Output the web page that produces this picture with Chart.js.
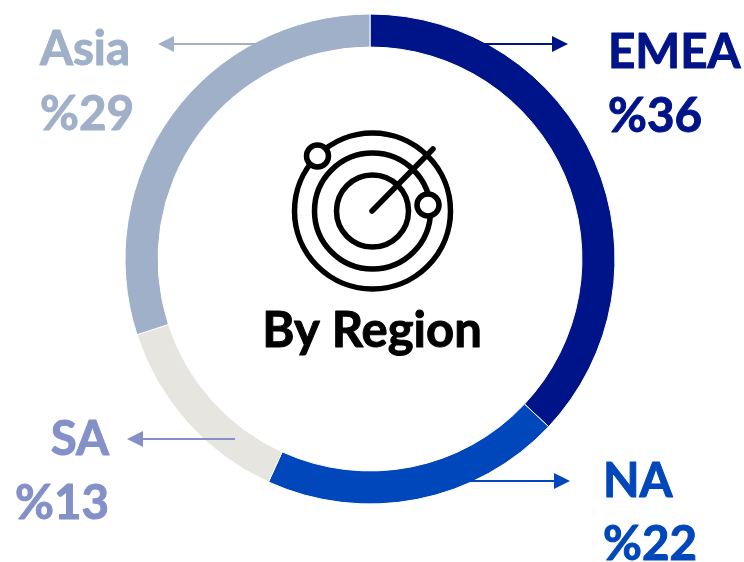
<!DOCTYPE html>
<html>
<head>
<meta charset="utf-8">
<title>By Region</title>
<script src="https://cdn.jsdelivr.net/npm/chart.js@4/dist/chart.umd.min.js"></script>
<style>
  html, body { margin: 0; padding: 0; background: #fff; }
  canvas { display: block; }
</style>
</head>
<body>
<canvas id="region-chart" width="744" height="562"></canvas>
<script>
const regions = ['EMEA', 'NA', 'SA', 'Asia'];
const percentLabels = ['%36', '%22', '%13', '%29'];
// ring shares as drawn in the picture, they differ a little from the printed labels
const ringShares = [37, 19.8, 13.2, 30];
const ringColors = ['#001489', '#0047BB', '#E7E5DF', '#9FB0C8'];
const textColors = ['#001489', '#0047BB', '#8490C8', '#9FB0C8'];
const centerTitle = 'By Region';

const FONT = 'Lato, Carlito, sans-serif';

const labelSpots = [
  { x: 608, y: 68, y2: 132, align: 'left' },
  { x: 603, y: 497, y2: 560, align: 'left' },
  { x: 109, y: 455, y2: 519, align: 'right' },
  { x: 40, y: 65, y2: 130, align: 'left' }
];
const arrows = [
  { from: 482, to: 568, y: 44 },
  { from: 470, to: 570, y: 481 },
  { from: 235, to: 127, y: 439 },
  { from: 255, to: 158, y: 44 }
];

function drawArrow(ctx, a, color) {
  const dir = a.to > a.from ? 1 : -1;
  ctx.strokeStyle = color;
  ctx.fillStyle = color;
  ctx.lineWidth = 2;
  ctx.beginPath();
  ctx.moveTo(a.from, a.y);
  ctx.lineTo(a.to - dir * 14, a.y);
  ctx.stroke();
  ctx.beginPath();
  ctx.moveTo(a.to, a.y);
  ctx.lineTo(a.to - dir * 16, a.y - 8);
  ctx.lineTo(a.to - dir * 16, a.y + 8);
  ctx.closePath();
  ctx.fill();
}

function drawRadar(ctx) {
  ctx.strokeStyle = '#000';
  ctx.lineWidth = 5.5;
  ctx.lineCap = 'round';
  [78, 58, 36].forEach(r => {
    ctx.beginPath();
    ctx.arc(372.5, 211, r, 0, Math.PI * 2);
    ctx.stroke();
  });
  ctx.beginPath();
  ctx.moveTo(372, 211);
  ctx.lineTo(433, 149);
  ctx.stroke();
  [[317.5, 156], [428, 205]].forEach(p => {
    ctx.beginPath();
    ctx.arc(p[0], p[1], 11, 0, Math.PI * 2);
    ctx.fillStyle = '#fff';
    ctx.fill();
    ctx.stroke();
  });
}

// Lato bold is lighter than the original face, a thin outline brings it closer
function boldText(ctx, text, x, y, color) {
  ctx.fillStyle = color;
  ctx.strokeStyle = color;
  ctx.lineWidth = 1;
  ctx.lineJoin = 'round';
  ctx.fillText(text, x, y);
  ctx.strokeText(text, x, y);
}

const annotations = {
  id: 'annotations',
  afterDraw(chart) {
    const ctx = chart.ctx;
    ctx.save();
    arrows.forEach((a, i) => drawArrow(ctx, a, textColors[i]));
    drawRadar(ctx);
    ctx.textBaseline = 'alphabetic';
    ctx.font = '700 47.5px ' + FONT;
    regions.forEach((name, i) => {
      const s = labelSpots[i];
      ctx.textAlign = s.align;
      boldText(ctx, name, s.x, s.y, textColors[i]);
      boldText(ctx, percentLabels[i], s.x, s.y2, textColors[i]);
    });
    ctx.textAlign = 'center';
    ctx.font = '700 49px ' + FONT;
    boldText(ctx, centerTitle, 372, 347, '#000');
    ctx.restore();
  }
};

new Chart(document.getElementById('region-chart'), {
  type: 'doughnut',
  data: {
    labels: regions,
    datasets: [{
      data: ringShares,
      backgroundColor: ringColors,
      borderColor: '#ffffff',
      borderWidth: 1
    }]
  },
  options: {
    responsive: false,
    animation: false,
    cutout: '86.5%',
    layout: { padding: { left: 124.5, right: 128.5, top: 13.5, bottom: 57.5 } },
    plugins: { legend: { display: false }, tooltip: { enabled: false } }
  },
  plugins: [annotations]
});
</script>
</body>
</html>
